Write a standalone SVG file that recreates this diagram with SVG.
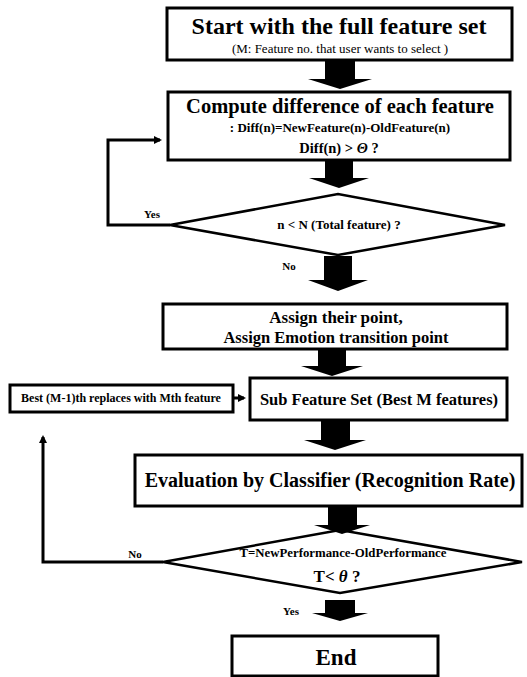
<svg xmlns="http://www.w3.org/2000/svg" width="527" height="677" viewBox="0 0 527 677">
<defs>
<style>
.box{fill:#fff;stroke:#000;stroke-width:3}
.dia{fill:#fff;stroke:#000;stroke-width:2.5}
.t{font-family:"Liberation Serif",serif;font-weight:bold;fill:#000;text-anchor:middle}
.n{font-family:"Liberation Serif",serif;font-weight:normal;fill:#000;text-anchor:middle}
.lbl{font-family:"Liberation Serif",serif;font-weight:bold;fill:#000;font-size:11px;text-anchor:middle}
.line{fill:none;stroke:#000;stroke-width:3}
.big{fill:#000}
</style>
<marker id="ah" markerWidth="8" markerHeight="8" refX="6" refY="4" orient="auto" markerUnits="userSpaceOnUse">
<path d="M0,0 L8,4 L0,8 z" fill="#000"/>
</marker>
</defs>
<rect width="527" height="677" fill="#fff"/>
<g id="n1">
<rect class="box" x="167" y="8" width="345" height="52"/>
<text class="t" x="339" y="34" font-size="24">Start with the full feature set</text>
<text class="n" x="340" y="53" font-size="13">(M: Feature no. that user wants to select )</text>
</g>
<g id="n2">
<rect class="box" x="168" y="92" width="342" height="68"/>
<text class="t" x="340" y="113" font-size="20.5">Compute difference of each feature</text>
<text class="t" x="340" y="132" font-size="13">: Diff(n)=NewFeature(n)-OldFeature(n)</text>
<text class="t" x="339" y="153" font-size="14.5">Diff(n) &gt; <tspan font-style="italic">Θ</tspan> ?</text>
</g>
<g id="n3">
<polygon class="dia" points="170,225 338,194 505,225 338,255"/>
<text class="t" x="339" y="229" font-size="13">n &lt; N (Total feature) ?</text>
</g>
<g id="n4">
<rect class="box" x="163" y="304" width="344" height="45"/>
<text class="t" x="336" y="323" font-size="17">Assign their point,</text>
<text class="t" x="336" y="343" font-size="16.5">Assign Emotion transition point</text>
</g>
<g id="n5">
<rect class="box" x="250" y="378" width="257" height="42"/>
<text class="t" x="379" y="405" font-size="16.5">Sub Feature Set (Best M features)</text>
</g>
<g id="n6">
<rect class="box" x="10" y="385" width="223" height="27"/>
<text class="t" x="121" y="402" font-size="12">Best (M-1)th replaces with Mth feature</text>
</g>
<g id="n7">
<rect class="box" x="135" y="455" width="387" height="51"/>
<text class="t" x="330" y="487" font-size="20">Evaluation by Classifier (Recognition Rate)</text>
</g>
<g id="n8">
<polygon class="dia" points="163,562 340,530 522,562 340,593"/>
<text class="t" x="343" y="557" font-size="12.8">T=NewPerformance-OldPerformance</text>
<text class="t" x="337" y="582" font-size="17">T&lt; <tspan font-style="italic">θ</tspan> ?</text>
</g>
<g id="n9">
<rect class="box" x="232" y="636" width="206" height="40"/>
<text class="t" x="336" y="665" font-size="23">End</text>
</g>
<g id="connectors">
<path class="big" d="M325,60 H355 V79 H372 L340,89 L308,79 H325 Z"/>
<path class="big" d="M325,160 H353 V178 H369 L339,188 L309,178 H325 Z"/>
<path class="big" d="M324,256 H352 V280 H368 L338,291 L308,280 H324 Z"/>
<path class="big" d="M318,349 H346 V366 H363 L332,376 L301,366 H318 Z"/>
<path class="big" d="M321,421 H350 V440 H366 L335,450 L304,440 H321 Z"/>
<path class="big" d="M328,506 H357 V525 H370 L342,534 L314,525 H328 Z"/>
<path class="big" d="M325,600 H355 V613 H368 L340,621 L312,613 H325 Z"/>
<polyline class="line" points="170,225 108,225 108,140 160,140" marker-end="url(#ah)"/>
<line class="line" x1="234" y1="398" x2="244" y2="398" stroke-width="2" marker-end="url(#ah)"/>
<polyline class="line" points="163,562 43,562 43,437" marker-end="url(#ah)"/>
<text class="lbl" x="152" y="218">Yes</text>
<text class="lbl" x="289" y="270">No</text>
<text class="lbl" x="135" y="558">No</text>
<text class="lbl" x="291" y="615">Yes</text>
</g>
</svg>
